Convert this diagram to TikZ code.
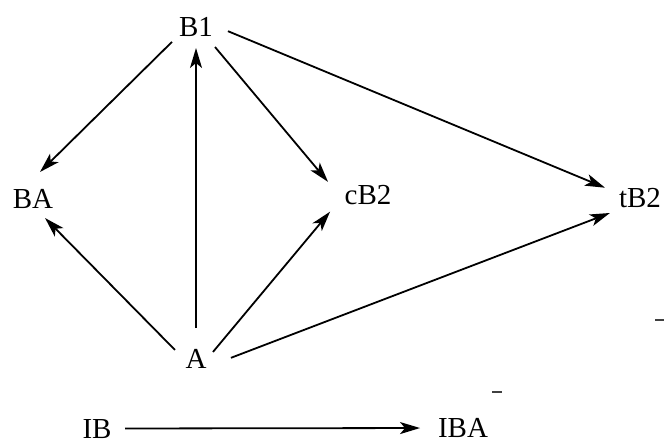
\documentclass[tikz,border=0pt]{standalone}
\usepackage{fontspec}
\setmainfont{Liberation Serif}
\usetikzlibrary{arrows.meta}
\begin{document}
\begin{tikzpicture}[x=1pt,y=-1pt,
  lbl/.style={inner sep=0pt,outer sep=0pt,text height=19.2pt,text depth=0pt,
    font=\fontsize{29}{29}\selectfont},
  arr/.style={line width=1.8pt,-{Stealth[length=20pt,width=12pt,inset=5pt]}},
  speck/.style={line width=2pt,black!75}]
\useasboundingbox (0,0) rectangle (664,444);
\node[lbl] (B1)  at (196,27)    {B1};
\node[lbl] (BA)  at (33,199)    {BA};
\node[lbl] (cB2) at (368,195)   {cB2};
\node[lbl] (tB2) at (640,198)   {tB2};
\node[lbl] (A)   at (196,359)   {A};
\node[lbl] (IB)  at (97,428.5)  {IB};
\node[lbl] (IBA) at (463,428)   {IBA};
\draw[arr,shorten <=10pt,shorten >=24.8pt] (B1.205) -- (BA.138);
\draw[arr,shorten <=15pt,shorten >=13.2pt] (A.189.2) -- (BA.-74.3);
\draw[arr,shorten <=21.4pt,shorten >=11.4pt] (A.north) -- (B1.south);
\draw[arr,shorten <=13.6pt,shorten >=25.9pt] (B1.-43) -- (cB2.196.2);
\draw[arr,shorten <=10.1pt,shorten >=22.8pt] (A.-4.4) -- (cB2.178.8);
\draw[arr,shorten <=16.3pt,shorten >=15.2pt] (B1.7.8) -- (tB2.168.7);
\draw[arr,shorten <=26.2pt,shorten >=15.1pt] (A.-38.7) -- (tB2.211.1);
\draw[arr,shorten <=13.5pt,shorten >=18pt] (IB.east) -- (IBA.west);
\draw[speck] (492,392) -- (502,392);
\draw[speck] (655,320) -- (664,320);
\end{tikzpicture}
\end{document}
